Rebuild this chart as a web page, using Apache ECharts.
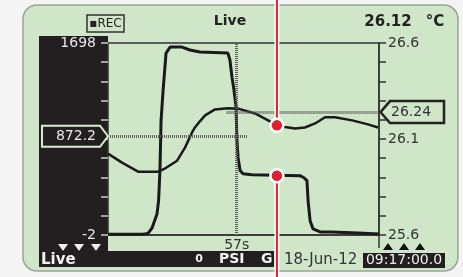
<!DOCTYPE html>
<html lang="en">
<head>
    <meta charset="UTF-8">
    <title>Live</title>
    <script src="https://cdn.jsdelivr.net/npm/echarts@6/dist/echarts.min.js"></script>
    <style>
        html, body { margin: 0; padding: 0; background: #f4f4f4; }
        #container { width: 463px; height: 277px; }
    </style>
</head>
<body>
<div id="container"></div>
<script>
    // data (time in s)
    var pressTime = [0, 15.5, 17.7, 19.5, 21.7, 22.4, 23, 23.5, 24.4, 25.7, 27.5, 32.8, 36.3, 40.7, 53.1, 54, 54.9, 55.8, 56.7, 57.1, 57.6, 58.5, 59.8, 63.8, 85, 86.8, 88.1, 88.6, 89.5, 90.8, 93.9, 99.2, 110.7, 120];
    var pressVal  = [4, 4, 12, 60, 185, 301, 568, 1013, 1280, 1609, 1662, 1662, 1636, 1618, 1609, 1547, 1395, 1280, 1128, 835, 683, 568, 541, 532, 523, 505, 479, 301, 123, 52, 25, 25, 16, 7];
    var tempTime = [0, 6.2, 13.3, 22.1, 25.2, 30.6, 34.1, 37.2, 38.5, 40.7, 43, 47.4, 53.1, 57.6, 65.1, 70.9, 74.8, 78.4, 82.8, 87.2, 91.7, 96.1, 100.5, 108.1, 115.1, 119.6];
    var tempVal  = [26.024, 25.977, 25.93, 25.93, 25.946, 25.987, 26.055, 26.134, 26.16, 26.192, 26.223, 26.254, 26.26, 26.258, 26.233, 26.197, 26.171, 26.163, 26.155, 26.16, 26.181, 26.213, 26.213, 26.197, 26.176, 26.16];

    var pressTicks = [-2, 1698];
    var tempTicks = [25.6, 26.1, 26.6];
    var cursorTime = 57;
    var cursorPress = 872.2;
    var cursorTemp = 26.24;
    var calloutTime = 74.8;
    var calloutTemp = 26.171;
    var calloutPress = 523;

    var GREEN = '#cfe6c9';
    var BLACK = '#231f20';
    var RED = '#e0202e';
    var FONT = '"DejaVu Sans", sans-serif';

    function zip(a, b) {
        var out = [];
        for (var i = 0; i < a.length; i++) out.push([a[i], b[i]]);
        return out;
    }
    function onTick(list, v) {
        for (var i = 0; i < list.length; i++) {
            if (Math.abs(list[i] - v) < 1e-6) return true;
        }
        return false;
    }

    var dom = document.getElementById('container');
    var myChart = echarts.init(dom, null, {renderer: 'canvas'});

    var dotted = {color: '#5e5e5e', width: 3, type: [1, 1]};

    var option = {
        animation: false,
        backgroundColor: '#f4f4f4',
        grid: {
            left: 108, right: 84, top: 43, bottom: 42,
            show: true, borderColor: '#333', borderWidth: 1.5
        },
        xAxis: {
            type: 'value',
            min: 0, max: 120, interval: cursorTime,
            splitLine: {show: false},
            axisTick: {show: false},
            axisLine: {show: true, onZero: false, lineStyle: {color: '#333', width: 1.5}},
            axisLabel: {
                margin: 3,
                color: '#333',
                fontFamily: FONT,
                fontSize: 14,
                showMaxLabel: false,
                formatter: function (v) { return v === cursorTime ? cursorTime + 's' : ''; }
            }
        },
        yAxis: [{
            type: 'value',
            position: 'left',
            min: -2, max: 1698, interval: 170,
            splitLine: {show: false},
            axisLine: {show: false},
            axisTick: {show: true, length: 7, lineStyle: {color: '#d0d0d0', width: 1.5}},
            axisLabel: {
                margin: 12,
                color: '#e8e8e8',
                fontFamily: FONT,
                fontSize: 14,
                formatter: function (v) { return onTick(pressTicks, v) ? String(Math.round(v)) : ''; }
            }
        }, {
            type: 'value',
            position: 'right',
            min: 25.6, max: 26.6, interval: 0.1,
            splitLine: {show: false},
            axisLine: {show: true, lineStyle: {color: '#333', width: 1.5}},
            axisTick: {show: true, length: 7, lineStyle: {color: '#333', width: 1.5}},
            axisLabel: {
                margin: 9,
                color: '#333',
                fontFamily: FONT,
                fontSize: 14,
                formatter: function (v) { return onTick(tempTicks, v) ? v.toFixed(1) : ''; }
            }
        }],
        series: [{
            name: 'pressure',
            type: 'line',
            yAxisIndex: 0,
            data: zip(pressTime, pressVal),
            showSymbol: false,
            lineStyle: {color: '#1a1a1a', width: 3},
            markLine: {
                silent: true,
                symbol: 'none',
                label: {show: false},
                lineStyle: dotted,
                data: [
                    {xAxis: cursorTime},
                    [{coord: [0, cursorPress]}, {coord: [cursorTime + 4.5, cursorPress]}]
                ]
            }
        }, {
            name: 'temperature',
            type: 'line',
            yAxisIndex: 1,
            data: zip(tempTime, tempVal),
            showSymbol: false,
            lineStyle: {color: '#1a1a1a', width: 2.5},
            markLine: {
                silent: true,
                symbol: 'none',
                label: {show: false},
                lineStyle: dotted,
                data: [
                    [{coord: [cursorTime - 4.5, cursorTemp]}, {coord: [120, cursorTemp]}]
                ]
            }
        }]
    };
    myChart.setOption(option, true);

    // screen furniture + cursor markers + callouts
    var yL = myChart.convertToPixel({yAxisIndex: 0}, cursorPress);
    var yR = myChart.convertToPixel({yAxisIndex: 1}, cursorTemp);
    var yBot = myChart.convertToPixel({yAxisIndex: 1}, 25.6);
    var xL = myChart.convertToPixel({xAxisIndex: 0}, 0);
    var xR = myChart.convertToPixel({xAxisIndex: 0}, 120);
    var p1 = myChart.convertToPixel({xAxisIndex: 0, yAxisIndex: 1}, [calloutTime, calloutTemp]);
    var p2 = myChart.convertToPixel({xAxisIndex: 0, yAxisIndex: 0}, [calloutTime, calloutPress]);

    function txt(x, y, s, font, fill, align) {
        return {type: 'text', z: -5, style: {x: x, y: y, text: s, font: font, fill: fill, align: align || 'left', verticalAlign: 'middle'}};
    }
    function tri(cx, up, fill) {
        var pts = up ? [[cx - 5, 250], [cx + 5, 250], [cx, 243]] : [[cx - 5, 244], [cx + 5, 244], [cx, 251]];
        return {type: 'polygon', z: -5, shape: {points: pts}, style: {fill: fill}};
    }

    var g = [
        {type: 'rect', z: -10, shape: {x: 23, y: 5, width: 435, height: 266, r: 14}, style: {fill: GREEN, stroke: '#98a698', lineWidth: 1.5}},
        {type: 'rect', z: -9, shape: {x: 39, y: 36, width: xL - 39, height: 231}, style: {fill: BLACK}},
        {type: 'rect', z: -9, shape: {x: 39, y: 251, width: 235, height: 16}, style: {fill: BLACK}},
        {type: 'rect', z: -9, shape: {x: 363, y: 253, width: 82, height: 15}, style: {fill: BLACK}},
        {type: 'line', z: -5, shape: {x1: xR, y1: yBot, x2: xR, y2: 248}, style: {stroke: '#333', lineWidth: 1.5}},
        {type: 'rect', z: -5, shape: {x: 87, y: 15, width: 37, height: 17}, style: {fill: 'none', stroke: '#333', lineWidth: 1.5}},
        txt(105.5, 24, '▪REC', '12px ' + FONT, '#222', 'center'),
        txt(230, 21, 'Live', 'bold 14px ' + FONT, '#222', 'center'),
        txt(388, 22, '26.12', 'bold 15px ' + FONT, '#222', 'center'),
        txt(435, 22, '°C', 'bold 15px ' + FONT, '#222', 'center'),
        txt(41, 260, 'Live', 'bold 15px ' + FONT, '#f2f2f2'),
        txt(199, 259, '0', 'bold 11px ' + FONT, '#f2f2f2', 'center'),
        txt(219, 259.5, 'PSI', 'bold 14px ' + FONT, '#f2f2f2'),
        txt(261, 259.5, 'G', 'bold 14px ' + FONT, '#f2f2f2'),
        txt(284, 260, '18-Jun-12', '15px ' + FONT, '#333'),
        txt(404, 260.5, '09:17:00.0', '14px ' + FONT, '#f2f2f2', 'center'),
        tri(63, false, '#eee'), tri(79, false, '#eee'), tri(96, false, '#eee'),
        tri(388, true, '#111'), tri(404, true, '#111'), tri(420, true, '#111'),
        // left cursor value
        {type: 'polygon', z: 5, shape: {points: [[42, yL - 10.5], [100, yL - 10.5], [xL, yL], [100, yL + 10.5], [42, yL + 10.5]]},
            style: {fill: BLACK, stroke: '#d8ecd2', lineWidth: 2}},
        {type: 'text', z: 6, style: {x: 96, y: yL, text: String(cursorPress), font: '14px ' + FONT, fill: '#e8e8e8', align: 'right', verticalAlign: 'middle'}},
        // right cursor value
        {type: 'polygon', z: 5, shape: {points: [[xR + 1.5, yR], [xR + 11, yR - 11], [444, yR - 11], [444, yR + 11], [xR + 11, yR + 11]]},
            style: {fill: GREEN, stroke: '#222', lineWidth: 2.5}},
        {type: 'text', z: 6, style: {x: 391, y: yR, text: cursorTemp.toFixed(2), font: '14px ' + FONT, fill: '#333', align: 'left', verticalAlign: 'middle'}},
        // callouts
        {type: 'line', z: 50, shape: {x1: p1[0], y1: -2, x2: p1[0], y2: p1[1]}, style: {stroke: '#fff', lineWidth: 5}},
        {type: 'line', z: 51, shape: {x1: p1[0], y1: -2, x2: p1[0], y2: p1[1]}, style: {stroke: RED, lineWidth: 2}},
        {type: 'line', z: 50, shape: {x1: p2[0], y1: p2[1], x2: p2[0], y2: 280}, style: {stroke: '#fff', lineWidth: 5}},
        {type: 'line', z: 51, shape: {x1: p2[0], y1: p2[1], x2: p2[0], y2: 280}, style: {stroke: RED, lineWidth: 2}},
        {type: 'circle', z: 52, shape: {cx: p1[0], cy: p1[1], r: 6.5}, style: {fill: RED, stroke: '#fff', lineWidth: 2.5}},
        {type: 'circle', z: 52, shape: {cx: p2[0], cy: p2[1], r: 6.5}, style: {fill: RED, stroke: '#fff', lineWidth: 2.5}}
    ];
    myChart.setOption({graphic: g});
</script>
</body>
</html>
